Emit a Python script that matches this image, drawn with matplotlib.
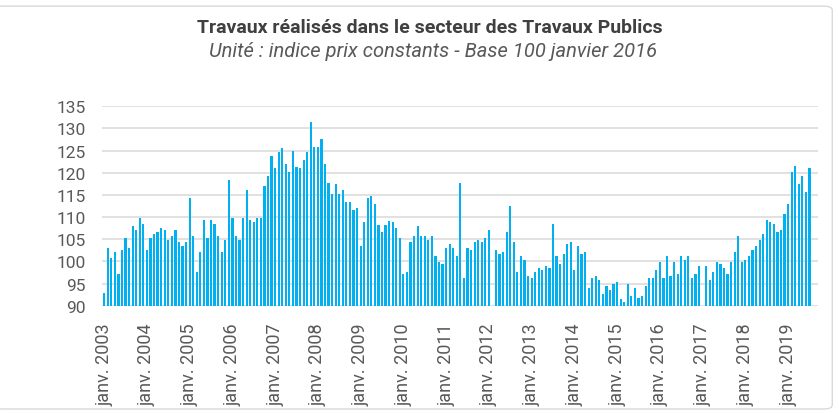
import numpy as np
import matplotlib.pyplot as plt
from matplotlib.patches import FancyBboxPatch

plt.rcParams['font.family'] = ['Roboto', 'DejaVu Sans']

# indice mensuel, janv. 2003 -> juil. 2019 (89.5 = sous l'axe)
y2003 = [92.8, 103.1, 100.8, 102.2, 97.2, 102.6, 105.3, 103.1, 108.0, 107.1, 109.8, 108.5]
y2004 = [102.6, 105.3, 106.2, 106.7, 107.6, 107.1, 104.9, 105.8, 107.1, 104.4, 103.5, 104.4]
y2005 = [114.3, 105.8, 97.7, 102.2, 109.4, 105.3, 109.4, 108.5, 105.8, 102.2, 104.9, 118.4]
y2006 = [109.8, 105.8, 104.9, 109.8, 116.2, 109.4, 108.9, 109.8, 109.8, 117.1, 119.3, 123.7]
y2007 = [121.0, 124.6, 125.5, 121.9, 120.2, 125.0, 121.4, 121.0, 122.8, 124.6, 131.4, 125.9]
y2008 = [125.9, 127.7, 121.9, 117.8, 115.1, 117.4, 115.1, 116.0, 113.3, 113.3, 111.7, 112.0]
y2009 = [103.5, 108.8, 114.2, 114.7, 112.9, 108.3, 106.7, 108.3, 109.2, 108.8, 107.6, 105.3]
y2010 = [97.2, 97.7, 104.4, 105.8, 108.0, 105.8, 105.8, 104.9, 105.8, 101.3, 99.9, 99.5]
y2011 = [103.1, 104.0, 103.1, 101.3, 117.8, 96.3, 103.1, 102.6, 104.4, 104.9, 104.4, 105.3]
y2012 = [107.1, 89.5, 102.6, 101.7, 102.2, 106.7, 112.6, 104.4, 97.7, 101.3, 100.4, 96.8]
y2013 = [96.3, 97.7, 98.6, 98.1, 99.0, 98.6, 108.5, 101.3, 99.5, 101.7, 104.0, 104.4]
y2014 = [98.1, 103.5, 101.7, 102.2, 94.1, 96.3, 96.8, 95.9, 92.7, 94.5, 93.6, 95.0]
y2015 = [95.4, 91.4, 90.9, 95.0, 92.3, 94.1, 91.8, 92.3, 94.5, 96.3, 96.3, 98.1]
y2016 = [99.9, 96.3, 101.3, 96.8, 99.9, 97.2, 101.3, 100.4, 101.3, 96.3, 97.2, 99.0]
y2017 = [89.5, 99.0, 95.9, 97.7, 99.9, 99.5, 98.6, 97.2, 99.9, 102.2, 105.8, 99.9]
y2018 = [100.4, 101.3, 102.6, 103.5, 104.9, 106.2, 109.4, 108.9, 108.5, 106.7, 107.1, 110.8]
y2019 = [113.0, 120.2, 121.6, 117.5, 119.3, 115.7, 121.1]

values = (y2003 + y2004 + y2005 + y2006 + y2007 + y2008 + y2009 + y2010 + y2011
          + y2012 + y2013 + y2014 + y2015 + y2016 + y2017 + y2018 + y2019)
years = list(range(2003, 2020))
tick_labels = [f'janv. {a}' for a in years]

fig = plt.figure(figsize=(8.39, 4.14), dpi=100)
ax = fig.add_axes([0.1216, 0.2592, 0.975 - 0.1216, 0.7408 - 0.2592])

x = np.arange(len(values))
ax.bar(x, values, width=0.62, color='#00b0f0', zorder=3)

ax.set_ylim(90, 135)
ax.set_xlim(-0.6, 200.4)
ax.set_yticks(range(90, 136, 5))
ax.set_xticks([12 * i for i in range(len(years))])
ax.set_xticklabels(tick_labels, rotation=90, va='top', ha='center')
ax.tick_params(axis='both', length=0, colors='#595959')
ax.tick_params(axis='y', pad=12, labelsize=12.5)
ax.tick_params(axis='x', pad=12, labelsize=13)
for s in ax.spines.values():
    s.set_visible(False)
ax.grid(axis='y', color='#d9d9d9', linewidth=1.1, zorder=0)
ax.set_axisbelow(True)

fig.text(0.512, 0.9203, 'Travaux réalisés dans le secteur des Travaux Publics',
         ha='center', va='baseline', fontsize=14, fontweight='bold', color='#404040')
fig.text(0.516, 0.8623, 'Unité : indice prix constants - Base 100 janvier 2016',
         ha='center', va='baseline', fontsize=14.5, style='italic', color='#595959')

# cadre gris autour du graphique
frame = FancyBboxPatch((-0.01, 0.0097), 1.002, 0.973, boxstyle='round,pad=0,rounding_size=0.01',
                       transform=fig.transFigure, facecolor='none', edgecolor='#d9d9d9',
                       linewidth=1.0)
fig.patches.append(frame)

fig.savefig('out.png', dpi=100)
